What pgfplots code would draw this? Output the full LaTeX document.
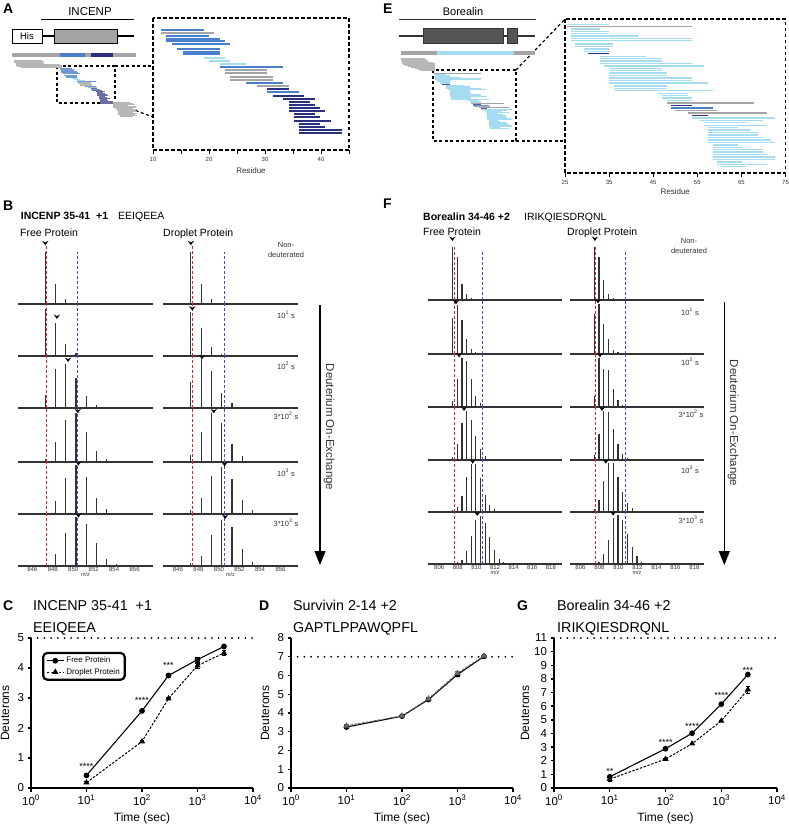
\documentclass[border=0pt]{standalone}
\usepackage{pgfplots}
\pgfplotsset{compat=1.18}
\usepackage{pgfplotstable}
\usepackage{fontspec}
\setmainfont{Liberation Sans}
\usetikzlibrary{arrows.meta}

\definecolor{pblue}{HTML}{4A7FCB}
\definecolor{plblue}{HTML}{A6DCF2}
\definecolor{pgrey}{HTML}{A5A5A5}
\definecolor{pnavy}{HTML}{2B2F7F}
\definecolor{sred}{HTML}{EE2222}
\definecolor{sblue}{HTML}{4A4AD0}
\definecolor{spk}{HTML}{333333}
\definecolor{dgrey}{HTML}{555555}
\newcommand{\fsz}[1]{\fontsize{#1pt}{#1pt}\selectfont}

\pgfdeclareplotmark{chev}{%
  \pgfpathmoveto{\pgfqpoint{-3.2pt}{2.2pt}}%
  \pgfpathlineto{\pgfqpoint{0pt}{-2.3pt}}%
  \pgfpathlineto{\pgfqpoint{3.2pt}{2.2pt}}%
  \pgfpathlineto{\pgfqpoint{0pt}{0.6pt}}%
  \pgfpathclose\pgfusepathqfill}

% ---------------- peptide maps (row position, start, end residue) ----------
\pgfplotstableread{
r s e
90 11.5 19.1
107 12.4 20.0
116 12.4 21.9
124 12.4 22.8
131 13.4 23.8
146 14.3 21.9
155 15.3 21.9
163 15.3 21.9
202 21.9 33.3
249 26.6 33.3
277 30.4 36.1
}\inBlue
\pgfplotstableread{
r s e
98 11.5 20.9
211 22.8 30.4
220 22.8 30.4
230 23.8 31.4
239 23.8 31.4
258 28.5 34.2
}\inGrey
\pgfplotstableread{
r s e
173 19.1 22.8
182 20.0 23.8
191 21.9 26.6
}\inLblue
\pgfplotstableread{
r s e
268 30.4 34.2
287 31.4 37.0
296 33.3 38.9
305 34.2 38.0
315 34.2 38.9
324 34.2 39.9
334 34.2 40.8
343 35.1 38.9
352 35.1 39.9
362 35.1 41.8
371 36.1 39.9
381 36.1 40.8
390 36.1 43.7
399 36.1 43.7
}\inNavy
\pgfplotstableread{
r s e
10 -16 1
20 -16 2
30 -16 1.5
40 -15 2
50 -15 12
60 -15 13
70 -14 13
80 -12 13
395 43.6 54
405 43.6 56
415 44 57
425 44 53
435 44 57.5
445 45 55
455 46 58
465 46 57
475 47 58
485 47 56
495 47 58
505 47 57
515 48 58
525 48 56
}\inGreyOut

\pgfplotstableread{
r s e
43 25.4 35.0
57 26.4 32.9
64 26.4 35.0
71 26.4 35.0
78 26.4 41.5
85 26.4 53.7
92 26.4 53.7
102 27.3 35.8
109 27.3 35.8
117 29.3 35.0
124 29.3 35.0
139 32.9 43.4
146 32.9 47.1
153 32.9 47.1
160 32.9 53.7
168 33.9 56.6
175 35.0 47.1
182 35.0 47.1
189 35.0 48.1
197 35.0 48.1
204 35.0 53.7
211 35.0 53.7
219 35.0 57.5
228 36.0 48.1
235 36.0 48.1
242 36.0 58.5
250 46.2 52.8
257 47.1 52.8
264 47.1 53.7
271 48.1 53.7
324 53.7 72.6
331 55.6 69.8
338 56.6 66.0
346 56.6 70.7
353 57.5 64.2
360 57.5 67.0
368 57.5 68.8
375 57.5 68.8
382 57.5 69.8
390 57.5 71.7
397 57.5 72.6
405 58.5 64.2
412 58.5 65.1
419 58.5 69.8
426 58.5 69.8
434 58.5 70.7
441 58.5 72.6
448 58.5 72.6
456 59.4 65.1
463 59.4 70.7
470 60.4 66.0
}\boLblue
\pgfplotstableread{
r s e
50 25.4 53.7
279 48.1 67.9
302 49.9 59.4
309 52.8 70.7
}\boGrey
\pgfplotstableread{
r s e
131 30.2 35.0
287 49.0 53.7
317 53.7 57.5
}\boNavy
\pgfplotstableread{
r s e
294 49.0 58.5
}\boBlue
\pgfplotstableread{
r s e
-70 5.8 20
-62 5.8 21
-55 5.8 22
-48 6 22
-40 6 24
-33 6 25
-26 7 26
-18 8 26
-10 10 26
-2 12 26
6 14 26
13 16 26
20 17 26
}\boGreyOut

% ---------------- kinetics ----------------
\pgfplotstableread{
t d e
10 0.42 0.03
100 2.57 0.03
300 3.75 0.03
1000 4.28 0.08
3000 4.72 0.07
}\Cfree
\pgfplotstableread{
t d e
10 0.18 0.03
100 1.55 0.04
300 2.98 0.03
1000 4.08 0.08
3000 4.50 0.08
}\Cdrop
\pgfplotstableread{
t d e
10 3.25 0.07
100 3.83 0.05
300 4.72 0.05
1000 6.05 0.08
3000 7.02 0.05
}\Dfree
\pgfplotstableread{
t d e
10 3.32 0.07
100 3.85 0.04
300 4.76 0.05
1000 6.12 0.08
3000 7.05 0.05
}\Ddrop
\pgfplotstableread{
t d e
10 0.82 0.10
100 2.88 0.05
300 4.02 0.05
1000 6.15 0.05
3000 8.32 0.05
}\Gfree
\pgfplotstableread{
t d e
10 0.65 0.20
100 2.12 0.05
300 3.25 0.05
1000 4.92 0.05
3000 7.22 0.25
}\Gdrop

\pgfplotsset{
  pep/.style 2 args={draw=none, mark=none, forget plot,
    error bars/.cd, x dir=plus, x explicit, error mark=none,
    error bar style={line width=#2, draw=#1, solid}},
  bigmap/.style={scale only axis, y dir=reverse, clip=false,
    axis line style={line width=1.2pt, dash pattern=on 3.5pt off 2.5pt},
    ytick=\empty, xtick pos=left, tick align=outside,
    major tick length=4pt, minor tick length=4pt,
    every tick/.style={line width=1pt, solid, black},
    xticklabel style={font=\fsz{6}, text=spk},
    /pgf/number format/assume math mode=true,
    xlabel={Residue}, xlabel style={font=\fsz{8}, text=spk}},
  minimap/.style={scale only axis, y dir=reverse, clip=false, hide axis},
  spec/.style={scale only axis, clip=false, ymin=0,
    axis x line=bottom, axis y line=none,
    axis line style={-, line width=1.5pt, draw=spk},
    xtick=\empty, ytick=\empty, major tick length=0pt,
    /pgf/number format/assume math mode=true,
    xticklabel style={font=\fsz{6}, text=spk, inner sep=1pt},
    xlabel style={font=\fsz{5.5}, text=spk, inner sep=0pt}},
  specB/.style={spec, width=135pt, height=52.33pt, ymax=157},
  specF/.style={spec, width=134pt, height=52.67pt, ymax=158},
  stk/.style={ycomb, line width=1.1pt, draw=spk, mark=none},
  rl/.style={draw=sred, line width=0.9pt, dash pattern=on 3pt off 2pt, mark=none},
  bl/.style={draw=sblue, line width=0.9pt, dash pattern=on 3pt off 2pt, mark=none},
  cv/.style={only marks, mark=chev, black},
  kin/.style={scale only axis, width=222pt, height=150pt, clip=false,
    xmin=1, xmax=10000, ymin=0,
    axis lines=left, axis line style={-, line width=1.6pt},
    every tick/.style={line width=1.4pt, black},
    tick align=outside, major tick length=3.5pt,
    xtick={1,10,100,1000,10000},
    xticklabels={10\textsuperscript{0},10\textsuperscript{1},10\textsuperscript{2},10\textsuperscript{3},10\textsuperscript{4}},
    xminorticks=false,
    ticklabel style={font=\fsz{11.5}},
    /pgf/number format/assume math mode=true,
    xlabel={Time (sec)}, ylabel={Deuterons},
    label style={font=\fsz{12}},
    xlabel style={at={(axis description cs:0.5,-0.205)}, anchor=center}},
  mx/.style={black, line width=2pt, line cap=round, dash pattern=on 0pt off 6.7pt, mark=none, forget plot},
  ebar/.style={error bars/.cd, y dir=both, y explicit, error bar style={line width=0.9pt, solid},
    error mark options={rotate=90, mark size=2.2pt, line width=0.9pt}},
  fr/.style={line width=1.1pt, solid, mark=*, mark size=2.3pt},
  dr/.style={line width=1pt, dash pattern=on 2.5pt off 1.5pt, mark=triangle*, mark size=2.6pt,
    mark options={solid}},
}

\begin{document}
\begin{tikzpicture}
\useasboundingbox (0pt,-827pt) rectangle (788pt,0pt);

% ================= panel letters =================
\node[anchor=base west, inner sep=0, font=\fsz{14}\bfseries] at (3pt,-13pt) {A};
\node[anchor=base west, inner sep=0, font=\fsz{14}\bfseries] at (383pt,-13pt) {E};
\node[anchor=base west, inner sep=0, font=\fsz{14}\bfseries] at (3pt,-210pt) {B};
\node[anchor=base west, inner sep=0, font=\fsz{14}\bfseries] at (383pt,-208pt) {F};
\node[anchor=base west, inner sep=0, font=\fsz{14}\bfseries] at (3pt,-610pt) {C};
\node[anchor=base west, inner sep=0, font=\fsz{14}\bfseries] at (259pt,-610pt) {D};
\node[anchor=base west, inner sep=0, font=\fsz{14}\bfseries] at (517pt,-610pt) {G};

% ================= A: INCENP schematic =================
\node[anchor=base, inner sep=0, font=\fsz{11.5}] at (90pt,-15.7pt) {INCENP};
\draw[line width=1pt] (41pt,-19pt) -- (134pt,-19pt);
\draw[line width=2pt] (42pt,-36pt) -- (134pt,-36pt);
\draw[line width=0.8pt, fill=white] (12pt,-29pt) rectangle (42pt,-43pt);
\node[anchor=base, inner sep=0, font=\fsz{9.5}] at (27pt,-39.3pt) {His};
\draw[line width=0.8pt, fill=pgrey] (54pt,-29pt) rectangle (117pt,-43pt);
\draw[line width=1.2pt, dash pattern=on 3pt off 2.5pt] (57pt,-66pt) rectangle (115pt,-103pt);
\draw[line width=1.2pt, dash pattern=on 3pt off 2.5pt] (115pt,-66pt) -- (153pt,-66pt);
\draw[line width=1.2pt, dash pattern=on 3pt off 2.5pt] (115pt,-103pt) -- (153pt,-117pt);

\begin{axis}[minimap, at={(12pt,-120pt)}, anchor=south west, width=124pt, height=70pt,
  xmin=-17.2, xmax=57.7, ymin=-82.7, ymax=553.6]
\addplot[pgrey, line width=4.2pt, forget plot] coordinates {(-17.2,-34.5) (11.8,-34.5)};
\addplot[pblue, line width=4.2pt, forget plot] coordinates {(11.8,-34.5) (26.9,-34.5)};
\addplot[pgrey, line width=4.2pt, forget plot] coordinates {(26.9,-34.5) (30.5,-34.5)};
\addplot[pnavy, line width=4.2pt, forget plot] coordinates {(30.5,-34.5) (44.0,-34.5)};
\addplot[pgrey, line width=4.2pt, forget plot] coordinates {(44.0,-34.5) (57.7,-34.5)};
\addplot[pep={pgrey!80}{1.1pt}] table[x=s, y=r, x error expr=\thisrow{e}-\thisrow{s}] {\inGreyOut};
\addplot[pep={pgrey!80}{1.1pt}] table[x=s, y=r, x error expr=\thisrow{e}-\thisrow{s}] {\inGrey};
\addplot[pep={pblue!80}{1.1pt}] table[x=s, y=r, x error expr=\thisrow{e}-\thisrow{s}] {\inBlue};
\addplot[pep={plblue}{1.1pt}] table[x=s, y=r, x error expr=\thisrow{e}-\thisrow{s}] {\inLblue};
\addplot[pep={pnavy!70}{1.1pt}] table[x=s, y=r, x error expr=\thisrow{e}-\thisrow{s}] {\inNavy};
\end{axis}

\begin{axis}[bigmap, at={(153pt,-150pt)}, anchor=south west, width=196pt, height=132pt,
  xmin=10, xmax=45, ymin=54, ymax=450,
  xtick={10,20,30,40}, minor xtick={15,25,35,45},
  xlabel style={at={(axis description cs:0.5,0)}, anchor=base, yshift=-23pt}]
\addplot[pep={pblue}{2pt}] table[x=s, y=r, x error expr=\thisrow{e}-\thisrow{s}] {\inBlue};
\addplot[pep={pgrey}{2pt}] table[x=s, y=r, x error expr=\thisrow{e}-\thisrow{s}] {\inGrey};
\addplot[pep={plblue}{2pt}] table[x=s, y=r, x error expr=\thisrow{e}-\thisrow{s}] {\inLblue};
\addplot[pep={pnavy}{2pt}] table[x=s, y=r, x error expr=\thisrow{e}-\thisrow{s}] {\inNavy};
\end{axis}

% ================= E: Borealin schematic =================
\node[anchor=base, inner sep=0, font=\fsz{11}] at (463pt,-15pt) {Borealin};
\draw[line width=1pt, spk] (399pt,-19pt) -- (536pt,-19pt);
\draw[line width=2pt, spk] (399pt,-36pt) -- (535pt,-36pt);
\draw[line width=0.6pt, draw=spk, fill=dgrey] (423pt,-28pt) rectangle (503pt,-43pt);
\draw[line width=0.6pt, draw=spk, fill=dgrey] (507pt,-28pt) rectangle (517pt,-43pt);
\draw[line width=1.2pt, dash pattern=on 3pt off 2.5pt] (433pt,-70pt) rectangle (516pt,-141pt);
\draw[line width=1.2pt, dash pattern=on 3pt off 2.5pt] (516pt,-70pt) -- (565pt,-19pt);
\draw[line width=1.2pt, dash pattern=on 3pt off 2.5pt] (516pt,-141pt) -- (565pt,-141pt);

\begin{axis}[minimap, at={(400.7pt,-142pt)}, anchor=south west, width=134.3pt, height=94pt,
  xmin=5.5, xmax=86.4, ymin=-147.7, ymax=569.3]
\addplot[pgrey, line width=4.3pt, forget plot] coordinates {(5.5,-111) (27.2,-111)};
\addplot[plblue, line width=4.3pt, forget plot] coordinates {(27.2,-111) (73.8,-111)};
\addplot[pgrey, line width=4.3pt, forget plot] coordinates {(73.8,-111) (86.4,-111)};
\addplot[pep={pgrey!80}{1.2pt}] table[x=s, y=r, x error expr=\thisrow{e}-\thisrow{s}] {\boGreyOut};
\addplot[pep={plblue}{1pt}] table[x=s, y=r, x error expr=\thisrow{e}-\thisrow{s}] {\boLblue};
\addplot[pep={pgrey}{1pt}] table[x=s, y=r, x error expr=\thisrow{e}-\thisrow{s}] {\boGrey};
\addplot[pep={pnavy!80}{1pt}] table[x=s, y=r, x error expr=\thisrow{e}-\thisrow{s}] {\boNavy};
\addplot[pep={pblue!80}{1pt}] table[x=s, y=r, x error expr=\thisrow{e}-\thisrow{s}] {\boBlue};
\end{axis}

\begin{axis}[bigmap, at={(565pt,-173pt)}, anchor=south west, width=220.5pt, height=154pt,
  xmin=25, xmax=75, ymin=27, ymax=489,
  xtick={25,35,45,55,65,75},
  xlabel style={at={(axis description cs:0.5,0)}, anchor=base, yshift=-21pt}]
\addplot[pep={plblue}{1.3pt}] table[x=s, y=r, x error expr=\thisrow{e}-\thisrow{s}] {\boLblue};
\addplot[pep={pgrey}{1.3pt}] table[x=s, y=r, x error expr=\thisrow{e}-\thisrow{s}] {\boGrey};
\addplot[pep={pnavy}{1.3pt}] table[x=s, y=r, x error expr=\thisrow{e}-\thisrow{s}] {\boNavy};
\addplot[pep={pblue}{1.3pt}] table[x=s, y=r, x error expr=\thisrow{e}-\thisrow{s}] {\boBlue};
\end{axis}

% ================= B: INCENP spectra =================
\node[anchor=base west, inner sep=0, font=\fsz{10.5}\bfseries] at (20.7pt,-219.3pt) {INCENP 35-41\ \ +1};
\node[anchor=base west, inner sep=0, font=\fsz{10.5}] at (118pt,-219.3pt) {EEIQEEA};
\node[anchor=base west, inner sep=0, font=\fsz{10.5}] at (20pt,-236pt) {Free Protein};
\node[anchor=base west, inner sep=0, font=\fsz{10.5}] at (163pt,-236pt) {Droplet Protein};
\node[anchor=base, inner sep=0, font=\fsz{7.5}, text=spk] at (286pt,-247pt) {Non-};
\node[anchor=base, inner sep=0, font=\fsz{7.5}, text=spk] at (286pt,-257pt) {deuterated};
\node[anchor=base, inner sep=0, font=\fsz{7.5}, text=spk] at (286pt,-318pt) {10\textsuperscript{1} s};
\node[anchor=base, inner sep=0, font=\fsz{7.5}, text=spk] at (286pt,-369pt) {10\textsuperscript{2} s};
\node[anchor=base, inner sep=0, font=\fsz{7.5}, text=spk] at (286pt,-419pt) {3*10\textsuperscript{2} s};
\node[anchor=base, inner sep=0, font=\fsz{7.5}, text=spk] at (286pt,-476pt) {10\textsuperscript{3} s};
\node[anchor=base, inner sep=0, font=\fsz{7.5}, text=spk] at (286pt,-526pt) {3*10\textsuperscript{3} s};
\draw[line width=1.2pt, -{Triangle[width=11pt,length=14pt]}] (320pt,-305pt) -- (320pt,-565pt);
\node[rotate=-90, inner sep=0, font=\fsz{11.5}, text=spk] at (329pt,-427pt) {Deuterium On-Exchange};

% Free protein column
\begin{axis}[specB, at={(18pt,-304pt)}, anchor=south west, xmin=844.6, xmax=857.8]
\addplot[stk] coordinates {(847.27,157) (848.27,60) (849.27,15) (850.27,2)};
\addplot[rl] coordinates {(847.4,0) (847.4,177)};
\addplot[bl] coordinates {(850.38,0) (850.38,157)};
\addplot[cv] coordinates {(847.27,183)};
\end{axis}
\begin{axis}[specB, at={(18pt,-356pt)}, anchor=south west, xmin=844.6, xmax=857.8]
\addplot[stk] coordinates {(847.27,140) (848.27,98) (849.27,35) (850.27,8)};
\addplot[rl] coordinates {(847.4,0) (847.4,160)};
\addplot[bl] coordinates {(850.38,0) (850.38,160)};
\addplot[cv] coordinates {(848.4,118)};
\end{axis}
\begin{axis}[specB, at={(18pt,-408pt)}, anchor=south west, xmin=844.6, xmax=857.8]
\addplot[stk] coordinates {(847.27,38) (848.27,118) (849.27,132) (850.27,90) (851.27,35) (852.27,10) (853.27,3)};
\addplot[rl] coordinates {(847.4,0) (847.4,160)};
\addplot[bl] coordinates {(850.38,0) (850.38,160)};
\addplot[cv] coordinates {(849.5,145)};
\end{axis}
\begin{axis}[specB, at={(18pt,-462pt)}, anchor=south west, xmin=844.6, xmax=857.8]
\addplot[stk] coordinates {(847.27,10) (848.27,59) (849.27,127) (850.27,147) (851.27,89) (852.27,34) (853.27,8)};
\addplot[rl] coordinates {(847.4,0) (847.4,162)};
\addplot[bl] coordinates {(850.38,0) (850.38,162)};
\addplot[cv] coordinates {(850.45,153)};
\end{axis}
\begin{axis}[specB, at={(18pt,-514pt)}, anchor=south west, xmin=844.6, xmax=857.8]
\addplot[stk] coordinates {(847.27,1) (848.27,39) (849.27,107) (850.27,147) (851.27,112) (852.27,49) (853.27,15) (854.27,4)};
\addplot[rl] coordinates {(847.4,0) (847.4,160)};
\addplot[bl] coordinates {(850.38,0) (850.38,160)};
\addplot[cv] coordinates {(850.5,152)};
\end{axis}
\begin{axis}[specB, at={(18pt,-566pt)}, anchor=south west, xmin=844.6, xmax=857.8,
  xtick={846,848,...,856}, xlabel={m/z}]
\addplot[stk] coordinates {(848.27,35) (849.27,98) (850.27,148) (851.27,126) (852.27,68) (853.27,21) (854.27,6)};
\addplot[rl] coordinates {(847.4,0) (847.4,160)};
\addplot[bl] coordinates {(850.38,0) (850.38,160)};
\addplot[cv] coordinates {(850.5,152)};
\end{axis}

% Droplet protein column
\begin{axis}[specB, at={(163pt,-304pt)}, anchor=south west, xmin=844.55, xmax=857.7]
\addplot[stk] coordinates {(847.27,157) (848.27,60) (849.27,15) (850.27,2)};
\addplot[rl] coordinates {(847.38,0) (847.38,177)};
\addplot[bl] coordinates {(850.52,0) (850.52,157)};
\addplot[cv] coordinates {(847.27,183)};
\end{axis}
\begin{axis}[specB, at={(163pt,-356pt)}, anchor=south west, xmin=844.55, xmax=857.7]
\addplot[stk] coordinates {(847.27,133) (848.27,83) (849.27,26) (850.27,6)};
\addplot[rl] coordinates {(847.38,0) (847.38,160)};
\addplot[bl] coordinates {(850.52,0) (850.52,160)};
\addplot[cv] coordinates {(847.4,143)};
\end{axis}
\begin{axis}[specB, at={(163pt,-408pt)}, anchor=south west, xmin=844.55, xmax=857.7]
\addplot[stk] coordinates {(847.27,78) (848.27,147) (849.27,110) (850.27,45) (851.27,15)};
\addplot[rl] coordinates {(847.38,0) (847.38,160)};
\addplot[bl] coordinates {(850.52,0) (850.52,160)};
\addplot[cv] coordinates {(848.35,153)};
\end{axis}
\begin{axis}[specB, at={(163pt,-462pt)}, anchor=south west, xmin=844.55, xmax=857.7]
\addplot[stk] coordinates {(847.27,22) (848.27,90) (849.27,147) (850.27,117) (851.27,55) (852.27,17)};
\addplot[rl] coordinates {(847.38,0) (847.38,162)};
\addplot[bl] coordinates {(850.52,0) (850.52,162)};
\addplot[cv] coordinates {(849.5,153)};
\end{axis}
\begin{axis}[specB, at={(163pt,-514pt)}, anchor=south west, xmin=844.55, xmax=857.7]
\addplot[stk] coordinates {(847.27,12) (848.27,47) (849.27,115) (850.27,142) (851.27,104) (852.27,42) (853.27,12)};
\addplot[rl] coordinates {(847.38,0) (847.38,160)};
\addplot[bl] coordinates {(850.52,0) (850.52,160)};
\addplot[cv] coordinates {(850.55,150)};
\end{axis}
\begin{axis}[specB, at={(163pt,-566pt)}, anchor=south west, xmin=844.55, xmax=857.7,
  xtick={846,848,...,856}, xlabel={m/z}]
\addplot[stk] coordinates {(847.27,10) (848.27,30) (849.27,93) (850.27,138) (851.27,116) (852.27,51) (853.27,13)};
\addplot[rl] coordinates {(847.38,0) (847.38,160)};
\addplot[bl] coordinates {(850.52,0) (850.52,160)};
\addplot[cv] coordinates {(850.6,148)};
\end{axis}

% ================= F: Borealin spectra =================
\node[anchor=base west, inner sep=0, font=\fsz{10.5}\bfseries] at (423pt,-220.5pt) {Borealin 34-46 +2};
\node[anchor=base west, inner sep=0, font=\fsz{10.5}] at (524pt,-220.5pt) {IRIKQIESDRQNL};
\node[anchor=base west, inner sep=0, font=\fsz{10.5}] at (423pt,-235pt) {Free Protein};
\node[anchor=base west, inner sep=0, font=\fsz{10.5}] at (567pt,-235pt) {Droplet Protein};
\node[anchor=base, inner sep=0, font=\fsz{7.5}, text=spk] at (689pt,-243pt) {Non-};
\node[anchor=base, inner sep=0, font=\fsz{7.5}, text=spk] at (689pt,-253pt) {deuterated};
\node[anchor=base, inner sep=0, font=\fsz{7.5}, text=spk] at (690pt,-315pt) {10\textsuperscript{1} s};
\node[anchor=base, inner sep=0, font=\fsz{7.5}, text=spk] at (690pt,-365pt) {10\textsuperscript{2} s};
\node[anchor=base, inner sep=0, font=\fsz{7.5}, text=spk] at (691pt,-417pt) {3*10\textsuperscript{2} s};
\node[anchor=base, inner sep=0, font=\fsz{7.5}, text=spk] at (690pt,-473pt) {10\textsuperscript{3} s};
\node[anchor=base, inner sep=0, font=\fsz{7.5}, text=spk] at (691pt,-523pt) {3*10\textsuperscript{3} s};
\draw[line width=1.2pt, -{Triangle[width=11pt,length=14pt]}] (724.3pt,-302pt) -- (724.3pt,-565pt);
\node[rotate=-90, inner sep=0, font=\fsz{11.5}, text=spk] at (733pt,-423pt) {Deuterium On-Exchange};

% Free protein column
\begin{axis}[specF, at={(428pt,-300pt)}, anchor=south west, xmin=804.8, xmax=819.2]
\addplot[stk] coordinates {(807.45,159) (807.95,130) (808.45,49) (808.95,19) (809.45,5)};
\addplot[rl] coordinates {(807.62,0) (807.62,165)};
\addplot[bl] coordinates {(810.65,0) (810.65,150)};
\addplot[cv] coordinates {(807.42,184)};
\end{axis}
\begin{axis}[specF, at={(428pt,-354pt)}, anchor=south west, xmin=804.8, xmax=819.2]
\addplot[stk] coordinates {(807.45,108) (807.95,148) (808.45,101) (808.95,46) (809.45,16) (809.95,7)};
\addplot[rl] coordinates {(807.62,0) (807.62,162)};
\addplot[bl] coordinates {(810.65,0) (810.65,162)};
\addplot[cv] coordinates {(807.82,156)};
\end{axis}
\begin{axis}[specF, at={(428pt,-407pt)}, anchor=south west, xmin=804.8, xmax=819.2]
\addplot[stk] coordinates {(807.45,19) (807.95,83) (808.45,148) (808.95,139) (809.45,83) (809.95,33) (810.45,11)};
\addplot[rl] coordinates {(807.62,0) (807.62,160)};
\addplot[bl] coordinates {(810.65,0) (810.65,160)};
\addplot[cv] coordinates {(808.14,156)};
\end{axis}
\begin{axis}[specF, at={(428pt,-460pt)}, anchor=south west, xmin=804.8, xmax=819.2]
\addplot[stk] coordinates {(807.45,9) (807.95,49) (808.45,111) (808.95,146) (809.45,121) (809.95,73) (810.45,33) (810.95,13)};
\addplot[rl] coordinates {(807.62,0) (807.62,160)};
\addplot[bl] coordinates {(810.65,0) (810.65,160)};
\addplot[cv] coordinates {(808.67,154)};
\end{axis}
\begin{axis}[specF, at={(428pt,-512pt)}, anchor=south west, xmin=804.8, xmax=819.2]
\addplot[stk] coordinates {(807.45,6) (807.95,14) (808.45,49) (808.95,104) (809.45,144) (809.95,144) (810.45,101) (810.95,51) (811.45,21) (811.95,9) (812.45,4)};
\addplot[rl] coordinates {(807.62,0) (807.62,160)};
\addplot[bl] coordinates {(810.65,0) (810.65,160)};
\addplot[cv] coordinates {(809.6,152)};
\end{axis}
\begin{axis}[specF, at={(428pt,-564pt)}, anchor=south west, xmin=804.8, xmax=819.2,
  xtick={806,808,...,818}, xlabel={m/z}]
\addplot[stk] coordinates {(807.45,2) (807.95,5) (808.45,13) (808.95,39) (809.45,83) (809.95,131) (810.45,143) (810.95,123) (811.45,81) (811.95,41) (812.45,16) (812.95,6)};
\addplot[rl] coordinates {(807.62,0) (807.62,160)};
\addplot[bl] coordinates {(810.65,0) (810.65,160)};
\addplot[cv] coordinates {(810.1,151)};
\end{axis}

% Droplet protein column
\begin{axis}[specF, at={(570pt,-300pt)}, anchor=south west, xmin=804.9, xmax=819.0]
\addplot[stk] coordinates {(807.45,159) (807.95,129) (808.45,59) (808.95,19) (809.45,5)};
\addplot[rl] coordinates {(807.62,0) (807.62,165)};
\addplot[bl] coordinates {(810.7,0) (810.7,150)};
\addplot[cv] coordinates {(807.52,184)};
\end{axis}
\begin{axis}[specF, at={(570pt,-354pt)}, anchor=south west, xmin=804.9, xmax=819.0]
\addplot[stk] coordinates {(807.45,121) (807.95,151) (808.45,91) (808.95,46) (809.45,13) (809.95,5)};
\addplot[rl] coordinates {(807.62,0) (807.62,162)};
\addplot[bl] coordinates {(810.7,0) (810.7,162)};
\addplot[cv] coordinates {(807.84,159)};
\end{axis}
\begin{axis}[specF, at={(570pt,-407pt)}, anchor=south west, xmin=804.9, xmax=819.0]
\addplot[stk] coordinates {(807.45,34) (807.95,148) (808.45,113) (808.95,111) (809.45,53) (809.95,21) (810.45,6)};
\addplot[rl] coordinates {(807.62,0) (807.62,160)};
\addplot[bl] coordinates {(810.7,0) (810.7,160)};
\addplot[cv] coordinates {(808.05,156)};
\end{axis}
\begin{axis}[specF, at={(570pt,-460pt)}, anchor=south west, xmin=804.9, xmax=819.0]
\addplot[stk] coordinates {(807.45,16) (807.95,78) (808.45,146) (808.95,143) (809.45,93) (809.95,48) (810.45,18) (810.95,6)};
\addplot[rl] coordinates {(807.62,0) (807.62,160)};
\addplot[bl] coordinates {(810.7,0) (810.7,160)};
\addplot[cv] coordinates {(808.27,154)};
\end{axis}
\begin{axis}[specF, at={(570pt,-512pt)}, anchor=south west, xmin=804.9, xmax=819.0]
\addplot[stk] coordinates {(807.45,9) (807.95,36) (808.45,94) (808.95,148) (809.45,148) (809.95,106) (810.45,61) (810.95,26) (811.45,11)};
\addplot[rl] coordinates {(807.62,0) (807.62,160)};
\addplot[bl] coordinates {(810.7,0) (810.7,160)};
\addplot[cv] coordinates {(808.66,152)};
\end{axis}
\begin{axis}[specF, at={(570pt,-564pt)}, anchor=south west, xmin=804.9, xmax=819.0,
  xtick={806,808,...,818}, xlabel={m/z}]
\addplot[stk] coordinates {(807.45,3) (807.95,6) (808.45,29) (808.95,71) (809.45,138) (809.95,146) (810.45,131) (810.95,91) (811.45,51) (811.95,23) (812.45,6)};
\addplot[rl] coordinates {(807.62,0) (807.62,160)};
\addplot[bl] coordinates {(810.7,0) (810.7,160)};
\addplot[cv] coordinates {(809.44,152)};
\end{axis}

% ================= C =================
\node[anchor=base west, inner sep=0, font=\fsz{14.3}] at (33pt,-610pt) {INCENP 35-41\ \ +1};
\node[anchor=base west, inner sep=0, font=\fsz{14.3}] at (33pt,-632pt) {EEIQEEA};
\begin{semilogxaxis}[kin, at={(31pt,-788pt)}, anchor=south west, ymax=5, ytick={0,...,5},
  ylabel style={at={(axis description cs:-0.117,0.5)}, anchor=center},
  legend cell align=left,
  legend style={at={(0.05,0.907)}, anchor=north west, draw=black, line width=2.2pt,
    rounded corners=4pt, font=\fsz{8}, inner xsep=3pt, inner ysep=2pt, row sep=0pt}]
\addplot[mx] coordinates {(1,5) (10000,5)};
\addplot[black, fr, ebar] table[x=t, y=d, y error=e] {\Cfree};
\addlegendentry{Free Protein}
\addplot[black, dr, ebar] table[x=t, y=d, y error=e] {\Cdrop};
\addlegendentry{Droplet Protein}
\node[font=\fsz{9}, yshift=-2pt] at (axis cs:10,0.8) {****};
\node[font=\fsz{9}, yshift=-2pt] at (axis cs:100,3.0) {****};
\node[font=\fsz{9}, yshift=-2pt] at (axis cs:300,4.16) {***};
\end{semilogxaxis}

% ================= D =================
\node[anchor=base west, inner sep=0, font=\fsz{14.3}] at (293pt,-610pt) {Survivin 2-14 +2};
\node[anchor=base west, inner sep=0, font=\fsz{14.3}] at (293pt,-632pt) {GAPTLPPAWQPFL};
\begin{semilogxaxis}[kin, at={(291pt,-788pt)}, anchor=south west, ymax=8, ytick={0,...,8},
  ylabel style={at={(axis description cs:-0.117,0.5)}, anchor=center}]
\addplot[mx] coordinates {(1,7) (10000,7)};
\addplot[black, fr, ebar] table[x=t, y=d, y error=e] {\Dfree};
\addplot[black!60, dr, ebar] table[x=t, y=d, y error=e] {\Ddrop};
\end{semilogxaxis}

% ================= G =================
\node[anchor=base west, inner sep=0, font=\fsz{14.3}] at (557pt,-610pt) {Borealin 34-46 +2};
\node[anchor=base west, inner sep=0, font=\fsz{14.3}] at (557pt,-632pt) {IRIKQIESDRQNL};
\begin{semilogxaxis}[kin, at={(554pt,-788pt)}, anchor=south west, width=223pt, ymax=11, ytick={0,...,11},
  ylabel style={at={(axis description cs:-0.13,0.5)}, anchor=center}]
\addplot[mx] coordinates {(1,11) (10000,11)};
\addplot[black, fr, ebar] table[x=t, y=d, y error=e] {\Gfree};
\addplot[black, dr, ebar] table[x=t, y=d, y error=e] {\Gdrop};
\node[font=\fsz{9}, yshift=-2pt] at (axis cs:10,1.37) {**};
\node[font=\fsz{9}, yshift=-2pt] at (axis cs:100,3.5) {****};
\node[font=\fsz{9}, yshift=-2pt] at (axis cs:300,4.67) {****};
\node[font=\fsz{9}, yshift=-2pt] at (axis cs:1000,6.94) {****};
\node[font=\fsz{9}, yshift=-2pt] at (axis cs:3000,8.78) {***};
\end{semilogxaxis}

\end{tikzpicture}
\end{document}
